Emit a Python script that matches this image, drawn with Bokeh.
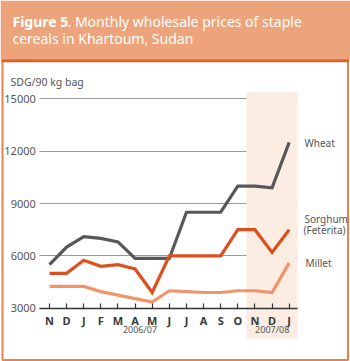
from bokeh.plotting import figure
from bokeh.models import (Range1d, LinearAxis, FixedTicker, Grid, Label)
from bokeh.embed import file_html
from bokeh.resources import INLINE

# ---- data ----
months = ["N", "D", "J", "F", "M", "A", "M", "J", "J", "A", "S", "O", "N", "D", "J"]
wheat = [5500, 6500, 7100, 7000, 6800, 5850, 5850, 5850, 8500, 8500, 8500, 10000, 10000, 9900, 12500]
sorghum = [5000, 5000, 5750, 5400, 5500, 5250, 3900, 6000, 6000, 6000, 6000, 7500, 7500, 6200, 7500]
millet = [4250, 4250, 4250, 3950, 3750, 3550, 3350, 4000, 3950, 3900, 3900, 4000, 4000, 3900, 5600]
y_ticks = [3000, 6000, 9000, 12000, 15000]
season_labels = ["2006/07", "2007/08"]
first_0708 = 12

FONT = "Noto Sans"
W, H = 350, 361
x_idx = list(range(len(months)))

# pixel mapping (frame = whole canvas)
px0, dpx = 49.0, 17.12
py3000, dpy = 307.7, 209.4 / 12000.0
xr = Range1d((0 - px0) / dpx, (W - px0) / dpx)
yr = Range1d(3000 - (H - py3000) / dpy, 3000 + py3000 / dpy)

p = figure(width=W, height=H, x_range=xr, y_range=yr, output_backend="svg",
           toolbar_location=None, x_axis_type=None, y_axis_type=None,
           min_border=0, outline_line_color=None, background_fill_color="white",
           border_fill_color="white")
p.extra_x_ranges = {"px": Range1d(0, W)}
p.extra_y_ranges = {"px": Range1d(H, 0)}

x_left = (39.3 - px0) / dpx
x_right = len(months) - 0.5

# header and frame (decoration, pixel units)
p.quad(left=0, right=W, top=0, bottom=58.7, fill_color="#EEA47B", line_color=None,
       x_range_name="px", y_range_name="px")
p.quad(left=2, right=347.5, top=60.2, bottom=359.5, fill_color=None,
       line_color="#E8804F", line_width=2, x_range_name="px", y_range_name="px")
p.segment(x0=1, x1=348.5, y0=60.2, y1=60.2, line_color="#E0602A", line_width=3,
          x_range_name="px", y_range_name="px")

# shaded 2007/08 season
p.quad(left=first_0708 - 0.5, right=x_right,
       top=3000 + (py3000 - 91.7) / dpy, bottom=3000 - (338 - py3000) / dpy,
       fill_color="#FCEDE3", line_color=None)

# grid
yticker = FixedTicker(ticks=y_ticks)
g = Grid(dimension=1, ticker=yticker, grid_line_color="#9A9A9A", grid_line_width=1,
         cross_bounds=(x_left, x_right))
p.add_layout(g)

# lines
p.line(x_idx, wheat, line_color="#58585A", line_width=3.2, line_join="miter")
p.line(x_idx, sorghum, line_color="#DC5020", line_width=3.2, line_join="miter")
p.line(x_idx, millet, line_color="#F0956B", line_width=3.2, line_join="miter")

# axes
xaxis = LinearAxis(ticker=FixedTicker(ticks=x_idx), fixed_location=3000,
                   bounds=(x_left, x_right))
xaxis.major_label_overrides = {i: m for i, m in enumerate(months)}
xaxis.axis_line_color = "#333333"
xaxis.axis_line_width = 1.3
xaxis.major_tick_line_color = "#333333"
xaxis.major_tick_line_width = 1.2
xaxis.major_tick_in = 5
xaxis.major_tick_out = 0
xaxis.minor_tick_line_color = None
xaxis.major_label_standoff = 5
xaxis.major_label_text_font = FONT
xaxis.major_label_text_font_size = "11px"
xaxis.major_label_text_font_style = "bold"
xaxis.major_label_text_color = "#3A3A3A"
p.add_layout(xaxis, "below")

yaxis = LinearAxis(ticker=yticker, fixed_location=x_left)
yaxis.axis_line_color = None
yaxis.major_tick_line_color = None
yaxis.minor_tick_line_color = None
yaxis.major_tick_in = 0
yaxis.major_tick_out = 0
yaxis.major_label_standoff = 4
yaxis.major_label_text_font = FONT
yaxis.major_label_text_font_size = "11px"
yaxis.major_label_text_color = "#555555"
p.add_layout(yaxis, "left")

def lab(x, y, t, size="11px", style="normal", color="#555555", align="left",
        base="middle"):
    p.add_layout(Label(x=x, y=y, text=t, text_font=FONT, text_font_size=size,
                       text_font_style=style, text_color=color, text_align=align,
                       text_baseline=base, x_range_name="px", y_range_name="px"))

# title
lab(12, 21, "Figure 5", size="14px", style="bold", color="white", base="alphabetic")
lab(67, 21, ". Monthly wholesale prices of staple", size="14px", color="white", base="alphabetic")
lab(12, 37.5, "cereals in Khartoum, Sudan", size="14px", color="white", base="alphabetic")

# axis title
lab(10, 81.7, "SDG/90 kg bag", size="10.5px")

# series labels
lab(304, 142.7, "Wheat", size="10px")
lab(304, 218, "Sorghum", size="10px")
lab(303, 229.5, "(Feterita)", size="10px")
lab(305, 262.7, "Millet", size="10px")

# season labels
lab(139.5, 329, season_labels[0], size="9px", align="center")
lab(271.7, 329, season_labels[1], size="9px", align="center")

open("out.html", "w").write(file_html(p, INLINE))
